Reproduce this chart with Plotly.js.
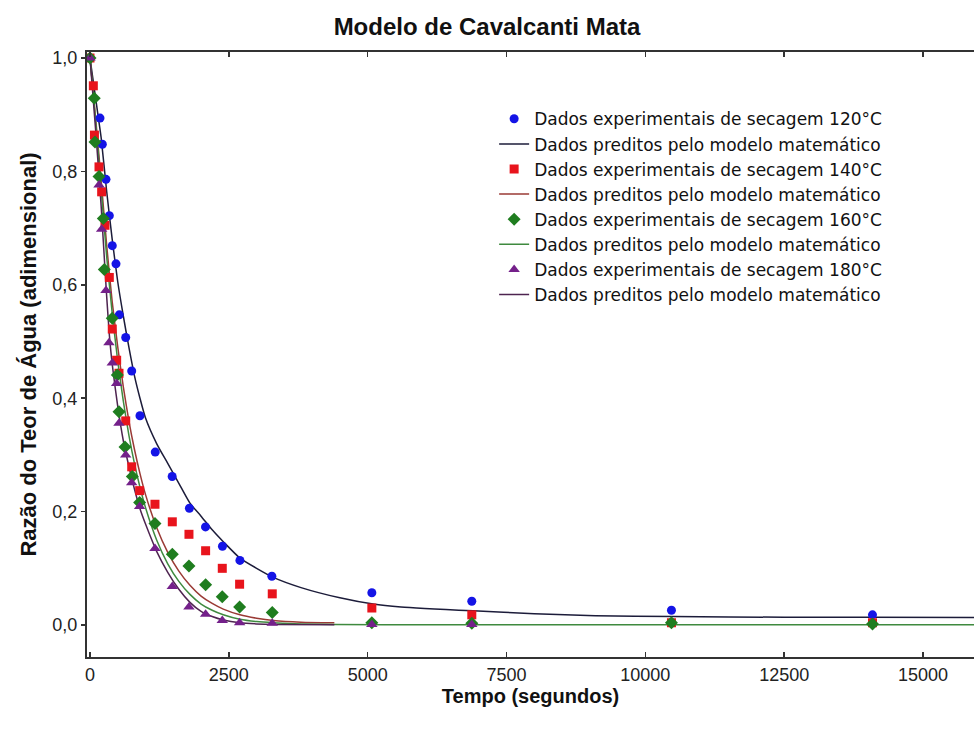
<!DOCTYPE html>
<html>
<head>
<meta charset="utf-8">
<script src="https://cdn.plot.ly/plotly-3.0.1.min.js"></script>
<style>html,body{margin:0;padding:0;background:#fff}#chart{width:974px;height:729px}</style>
</head>
<body>
<div id="chart"></div>
<script>
// Experimental data (time in s, moisture ratio)
const t120 = [0, 180, 222, 288, 348, 401, 468, 527, 643, 751, 900, 1175, 1480, 1790, 2080, 2385, 2700, 3275, 5075, 6875, 10470, 14090];
const mr120 = [1.0, 0.894, 0.848, 0.786, 0.722, 0.669, 0.637, 0.547, 0.507, 0.448, 0.369, 0.305, 0.262, 0.206, 0.173, 0.139, 0.114, 0.086, 0.057, 0.042, 0.026, 0.018];

const t140 = [0, 60, 80, 162, 210, 270, 348, 401, 480, 522, 643, 751, 894, 1170, 1482, 1782, 2082, 2382, 2694, 3282, 5075, 6875, 10470, 14090];
const mr140 = [1.0, 0.951, 0.864, 0.808, 0.764, 0.705, 0.613, 0.522, 0.467, 0.444, 0.360, 0.279, 0.237, 0.213, 0.182, 0.160, 0.131, 0.100, 0.072, 0.055, 0.030, 0.018, 0.004, 0.004];

const t160 = [0, 77, 90, 162, 240, 258, 401, 492, 522, 630, 762, 894, 1170, 1482, 1782, 2082, 2382, 2694, 3282, 5075, 6875, 10470, 14090];
const mr160 = [1.0, 0.929, 0.852, 0.791, 0.717, 0.627, 0.541, 0.441, 0.376, 0.314, 0.262, 0.216, 0.179, 0.125, 0.104, 0.071, 0.050, 0.032, 0.022, 0.004, 0.003, 0.004, 0.002];

const t180 = [0, 162, 210, 288, 342, 401, 480, 522, 643, 751, 894, 1170, 1482, 1782, 2082, 2382, 2694, 3282, 5075, 6875];
const mr180 = [1.0, 0.776, 0.698, 0.590, 0.498, 0.462, 0.426, 0.356, 0.300, 0.251, 0.209, 0.135, 0.068, 0.032, 0.019, 0.008, 0.004, 0.003, 0.001, 0.001];

// Model (predicted) curves
const tm120 = [0, 50, 100, 150, 200, 300, 400, 500, 600, 700, 800, 900, 1000, 1200, 1400, 1600, 1800, 2000, 2200, 2400, 2700, 3000, 3300, 3800, 4500, 5100, 5600, 6900, 8000, 9100, 10500, 12500, 14000, 16000];
const ym120 = [1.0, 0.965, 0.93, 0.895, 0.86, 0.765, 0.68, 0.605, 0.545, 0.49, 0.44, 0.40, 0.365, 0.32, 0.285, 0.25, 0.215, 0.192, 0.168, 0.147, 0.118, 0.10, 0.084, 0.066, 0.048, 0.037, 0.032, 0.025, 0.020, 0.0165, 0.015, 0.0137, 0.0135, 0.0133];

const tm140 = [0, 100, 200, 300, 400, 500, 600, 700, 800, 900, 1000, 1200, 1400, 1600, 1800, 2000, 2200, 2400, 2700, 3000, 3300, 3800, 4400];
const ym140 = [1.0, 0.895, 0.785, 0.67, 0.57, 0.49, 0.42, 0.36, 0.31, 0.267, 0.23, 0.172, 0.128, 0.095, 0.07, 0.051, 0.038, 0.028, 0.018, 0.012, 0.008, 0.005, 0.004];

const tm160 = [0, 100, 200, 300, 400, 500, 600, 700, 800, 900, 1000, 1200, 1400, 1600, 1800, 2000, 2200, 2400, 2700, 3000, 3300, 3800, 4400, 6000, 16000];
const ym160 = [1.0, 0.89, 0.77, 0.65, 0.55, 0.465, 0.395, 0.335, 0.285, 0.243, 0.207, 0.15, 0.108, 0.077, 0.054, 0.037, 0.026, 0.018, 0.010, 0.006, 0.004, 0.002, 0.001, 0.0005, 0.0005];

const tm180 = [0, 100, 200, 250, 300, 350, 400, 500, 600, 700, 800, 900, 1000, 1200, 1400, 1600, 1800, 2000, 2200, 2400, 2700, 3000, 3300, 4400];
const ym180 = [1.0, 0.875, 0.74, 0.66, 0.58, 0.51, 0.46, 0.385, 0.325, 0.28, 0.24, 0.205, 0.178, 0.13, 0.093, 0.063, 0.04, 0.024, 0.015, 0.009, 0.004, 0.002, 0.001, 0.0005];

const xTickVals = [0, 2500, 5000, 7500, 10000, 12500, 15000];
const xTickText = ['0', '2500', '5000', '7500', '10000', '12500', '15000'];
const yTickVals = [0, 0.2, 0.4, 0.6, 0.8, 1.0];
const yTickText = ['0,0', '0,2', '0,4', '0,6', '0,8', '1,0'];

const expName = 'Dados experimentais de secagem ';
const modName = 'Dados preditos pelo modelo matemático';

const FONT = 'Liberation Sans, Arial, sans-serif';
const LEGEND_FONT = 'DejaVu Sans, Liberation Sans, sans-serif';

function modelTrace(x, y, color, rank) {
  return {x: x, y: y, type: 'scatter', mode: 'lines', name: modName,
    line: {color: color, width: 1.5, shape: 'spline', smoothing: 0.6},
    legendrank: rank, hoverinfo: 'x+y'};
}
function expTrace(x, y, color, symbol, size, label, rank) {
  return {x: x, y: y, type: 'scatter', mode: 'markers', name: expName + label,
    marker: {color: color, symbol: symbol, size: size},
    legendrank: rank, hoverinfo: 'x+y'};
}

const data = [
  modelTrace(tm120, ym120, '#1c1c3a', 2),
  modelTrace(tm140, ym140, '#9a3a35', 4),
  modelTrace(tm160, ym160, '#3f8a3f', 6),
  modelTrace(tm180, ym180, '#4e2450', 8),
  expTrace(t120, mr120, '#1414e6', 'circle', 9, '120°C', 1),
  expTrace(t140, mr140, '#e8141c', 'square', 9, '140°C', 3),
  expTrace(t160, mr160, '#1f7d1f', 'diamond', 10, '160°C', 5),
  expTrace(t180, mr180, '#74208a', 'triangle-up', 10, '180°C', 7)
];

const layout = {
  width: 974, height: 729,
  margin: {l: 87, r: 0, t: 52, b: 72},
  paper_bgcolor: '#ffffff', plot_bgcolor: '#ffffff',
  font: {family: FONT, color: '#111'},
  title: {text: 'Modelo de Cavalcanti Mata', x: 0.5, xanchor: 'center', y: 0.963, yanchor: 'middle',
          font: {family: FONT, size: 24, weight: 'bold', color: '#111'}},
  xaxis: {
    range: [-54, 15918], showgrid: false, zeroline: false,
    showline: true, linecolor: '#333', linewidth: 2, mirror: 'ticks',
    ticks: 'inside', ticklen: 5, tickwidth: 1.5, tickcolor: '#333',
    tickvals: xTickVals, ticktext: xTickText,
    tickfont: {family: FONT, size: 18, color: '#222'},
    title: {text: 'Tempo (segundos)', standoff: 0, font: {family: FONT, size: 20, weight: 'bold', color: '#111'}}
  },
  yaxis: {
    range: [-0.0564, 1.0106], showgrid: false, zeroline: false,
    showline: true, linecolor: '#333', linewidth: 2,
    ticks: 'outside', ticklen: 4, tickwidth: 1.5, tickcolor: '#333',
    tickvals: yTickVals, ticktext: yTickText,
    tickfont: {family: FONT, size: 18, color: '#222'},
    title: {text: 'Razão do Teor de Água (adimensional)', standoff: 10, font: {family: FONT, size: 22, weight: 'bold', color: '#111'}}
  },
  showlegend: true,
  legend: {x: 0.459, xanchor: 'left', y: 0.9186, yanchor: 'top', bgcolor: 'rgba(0,0,0,0)',
           borderwidth: 0, traceorder: 'normal', font: {family: LEGEND_FONT, size: 17, color: '#111'}}
};

Plotly.newPlot('chart', data, layout, {displayModeBar: false, staticPlot: true});
</script>
</body>
</html>
